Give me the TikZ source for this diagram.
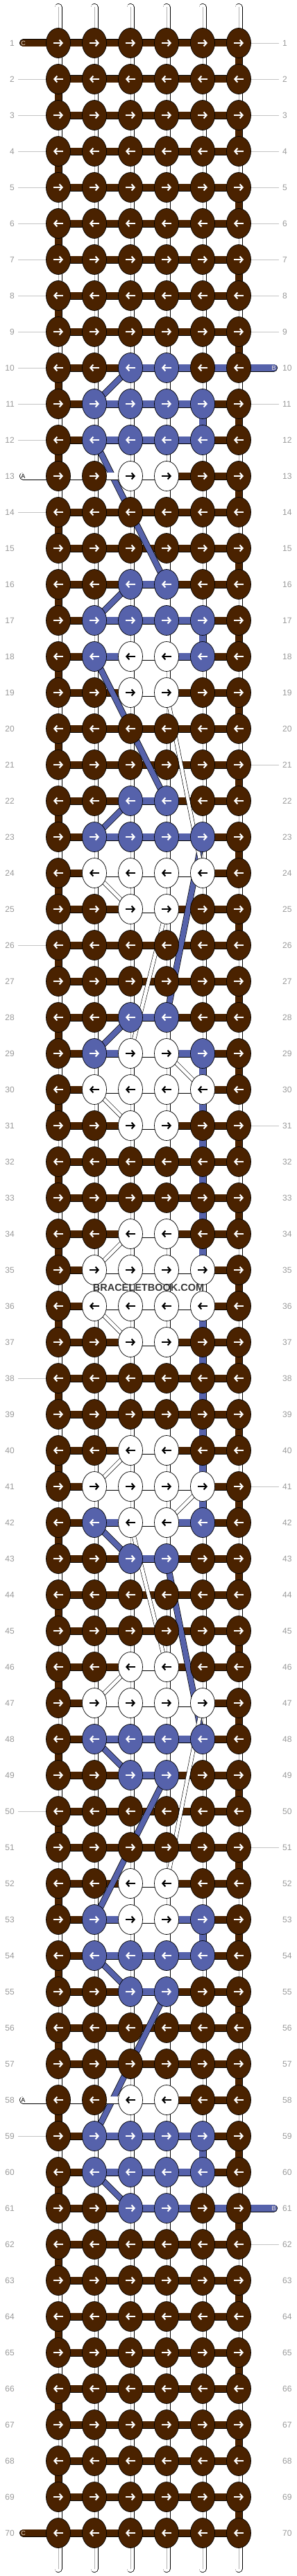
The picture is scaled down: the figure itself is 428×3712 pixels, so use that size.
\documentclass[tikz,border=0pt]{standalone}
\usepackage{fontspec}
\setmainfont{Liberation Sans}
\usetikzlibrary{shapes.geometric,arrows.meta}
\pgfdeclarelayer{warp}
\pgfdeclarelayer{strands}
\pgfsetlayers{warp,strands,main}
\definecolor{cordC}{HTML}{4A2200}
\definecolor{cordB}{HTML}{5662AB}
\definecolor{labgray}{HTML}{9A9A9A}
\definecolor{linegray}{HTML}{C4C4C4}
\definecolor{tagtext}{HTML}{F2E6D8}
% which colour a knot takes, by row type (0..5)
\def\midkind{{0,1,1,2,2,2}}
\def\sidekind{{0,0,1,0,1,2}}
\tikzset{
  knot/.style={ellipse, draw=black, line width=0.7pt, minimum width=35pt, minimum height=43pt, inner sep=0pt},
  kind0/.style={fill=cordC},
  kind1/.style={fill=cordB},
  kind2/.style={fill=white},
  tip/.style={line width=2.1pt, -{Straight Barb[length=4pt,width=9pt]}},
  tip0/.style={tip, draw=white},
  tip1/.style={tip, draw=white},
  tip2/.style={tip, draw=black},
  warpcord/.style={draw=black, line width=0.7pt, double=white, double distance=9.6pt, line cap=round},
  warpmid/.style={draw=black!30, line width=0.7pt},
  brownrun/.style={draw=black, line width=0.7pt, double=cordC, double distance=9.6pt},
  bluerun/.style={draw=black, line width=0.7pt, double=cordB, double distance=9.6pt},
  bluecarry/.style={draw=black, line width=0.7pt, double=cordB, double distance=7.6pt},
  whiterun/.style={draw=black, line width=0.7pt, double=white, double distance=9.6pt},
  whitecarry/.style={draw=black, line width=0.6pt, double=white, double distance=4.8pt},
  rowlab/.style={text=labgray, inner sep=0pt, font=\fontsize{12}{12}\selectfont},
  gridline/.style={draw=linegray, line width=0.8pt},
  endtag/.style={inner sep=0pt, font=\fontsize{9}{9}\selectfont}
}
\begin{document}
\begin{tikzpicture}[x=1pt,y=-1pt]
\useasboundingbox (0,0) rectangle (428,3712);

% knots
\foreach \r/\t in {1/0,2/0,3/0,4/0,5/0,6/0,7/0,8/0,9/0,10/1,11/2,12/2,13/3,14/0,15/0,
  16/1,17/2,18/4,19/3,20/0,21/0,22/1,23/2,24/5,25/3,26/0,27/0,28/1,29/4,30/5,
  31/3,32/0,33/0,34/3,35/5,36/5,37/3,38/0,39/0,40/3,41/5,42/4,43/1,44/0,45/0,
  46/3,47/5,48/2,49/1,50/0,51/0,52/3,53/4,54/2,55/1,56/0,57/0,58/3,59/2,60/2,
  61/1,62/0,63/0,64/0,65/0,66/0,67/0,68/0,69/0,70/0} {
  \foreach \c in {1,...,6} {
    \pgfmathtruncatemacro\kind{(\c==3||\c==4)*\midkind[\t]+(\c==2||\c==5)*\sidekind[\t]}
    \node[knot, kind\kind] (k\r-\c) at ({84+52*(\c-1)},{62+52*(\r-1)}) {};
    \ifodd\r
      \draw[tip\kind] ([xshift=-7pt]k\r-\c.center) -- ([xshift=7pt]k\r-\c.center);
    \else
      \draw[tip\kind] ([xshift=7pt]k\r-\c.center) -- ([xshift=-7pt]k\r-\c.center);
    \fi
  }
}

% row numbers
\foreach \r in {1,...,70} {
  \node[rowlab, anchor=east] (ll\r) at (21,{62+52*(\r-1)}) {\r};
  \node[rowlab, anchor=west] (rl\r) at (407,{62+52*(\r-1)}) {\r};
}
\foreach \r in {2,...,12,14,...,57,59,...,69}
  \draw[gridline] ([xshift=5pt]ll\r.east) -- (k\r-1.west);
\foreach \r in {1,...,9,11,...,60,62,...,70}
  \draw[gridline] (k\r-6.east) -- ([xshift=-5pt]rl\r.west);

% strand ends
\node[endtag, text=tagtext] (tagC1) at (33.5,62) {C};
\node[endtag, text=tagtext] (tagC70) at (33.5,3650) {C};
\node[endtag, text=tagtext] (tagB10) at (394.5,530) {B};
\node[endtag, text=tagtext] (tagB61) at (394.5,3182) {B};
\node[endtag, text=black] (tagA13) at (33.5,686) {A};
\node[endtag, text=black] (tagA58) at (33.5,3026) {A};

\node[font=\bfseries\fontsize{14.5}{15}\selectfont, text=black!78] (mark) at (214,1855) {BRACELETBOOK.COM};

\begin{pgfonlayer}{warp}
  \fill[white] (0,0) rectangle (428,3712);
  \foreach \c in {1,...,6} {
    \coordinate (wt\c) at ({84+52*(\c-1)},10.5);
    \coordinate (wb\c) at ({84+52*(\c-1)},3701.5);
    \draw[warpcord] (wt\c) -- (wb\c);
    \draw[warpmid] (wt\c) -- (wb\c);
  }
\end{pgfonlayer}

\begin{pgfonlayer}{strands}
  % brown
  \draw[brownrun, line cap=round] (tagC1.center) -- (k1-1.center);
  \draw[brownrun, line cap=round] (tagC70.center) -- (k70-1.center);
  \foreach \r in {1,...,70}
    \draw[brownrun] (k\r-1.center) -- (k\r-6.center);
  \foreach \r [evaluate=\r as \nx using int(\r+1)] in {1,3,...,69}
    \draw[brownrun] (k\r-6.center) -- (k\nx-6.center);
  \foreach \r [evaluate=\r as \nx using int(\r+1)] in {2,4,...,68}
    \draw[brownrun] (k\r-1.center) -- (k\nx-1.center);
  % blue
  \draw[bluerun, line cap=round] (tagB10.center) -- (k10-3.center);
  \draw[bluerun, line cap=round] (tagB61.center) -- (k61-3.center);
  \foreach \a/\b in {k11-2/k11-5,k11-5/k12-5,k12-5/k12-2,k16-4/k16-3,k17-2/k17-5,
      k17-5/k18-5,k18-5/k18-2,k22-4/k22-3,k23-2/k23-5,k28-4/k28-3,k29-2/k29-5,
      k29-5/k42-5,k42-5/k42-2,k43-3/k43-4,k48-5/k48-2,k49-3/k49-4,k53-2/k53-5,
      k53-5/k54-5,k54-5/k54-2,k55-3/k55-4,k59-2/k59-5,k59-5/k60-5,k60-5/k60-2}
    \draw[bluerun] (\a.center) -- (\b.center);
  \foreach \a/\b in {k10-3/k11-2,k12-2/k16-4,k16-3/k17-2,k18-2/k22-4,k22-3/k23-2,
      k23-5/k28-4,k28-3/k29-2,k42-2/k43-3,k43-4/k48-5,k48-2/k49-3,k49-4/k53-2,
      k54-2/k55-3,k55-4/k59-2,k60-2/k61-3}
    \draw[bluecarry] (\a.center) -- (\b.center);
  % white
  \draw[whiterun, line cap=round] (tagA13.center) -- (k13-4.center);
  \draw[whiterun, line cap=round] (tagA58.center) -- (k58-4.center);
  \foreach \a/\b in {k13-4/k18-4,k18-4/k18-3,k18-3/k19-3,k19-3/k19-4,k24-5/k24-2,
      k25-3/k25-4,k29-3/k29-4,k30-5/k30-2,k31-3/k31-4,k31-4/k34-4,k34-4/k34-3,
      k35-2/k35-5,k35-5/k36-5,k36-5/k36-2,k37-3/k37-4,k37-4/k40-4,k40-4/k40-3,
      k41-2/k41-5,k42-4/k42-3,k46-4/k46-3,k47-2/k47-5,k52-4/k52-3,k52-3/k53-3,
      k53-3/k53-4,k53-4/k58-4}
    \draw[whiterun] (\a.center) -- (\b.center);
  \foreach \a/\b in {k19-4/k24-5,k24-2/k25-3,k25-4/k29-3,k29-4/k30-5,k30-2/k31-3,
      k34-3/k35-2,k36-2/k37-3,k40-3/k41-2,k41-5/k42-4,k42-3/k46-4,k46-3/k47-2,
      k47-5/k52-4}
    \draw[whitecarry] (\a.center) -- (\b.center);
\end{pgfonlayer}
\end{tikzpicture}
\end{document}
